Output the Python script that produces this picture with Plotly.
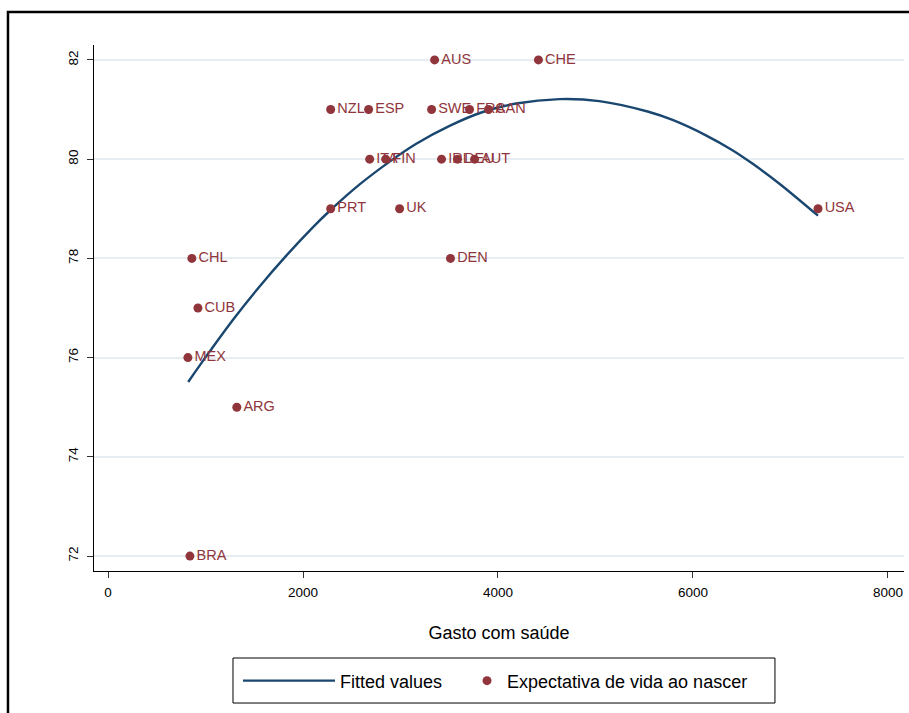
import plotly.graph_objects as go

# Scatter data
countries = ["AUS", "CHE", "NZL", "ESP", "SWE", "FRA", "CAN", "ITA", "FIN",
             "IRL", "DEU", "AUT", "PRT", "UK", "DEN", "USA", "CHL", "CUB",
             "MEX", "ARG", "BRA"]
gasto = [3350, 4415, 2284, 2673, 3319, 3708, 3903, 2684, 2848,
         3421, 3585, 3760, 2284, 2991, 3513, 7283, 860, 922,
         819, 1321, 840]
expectativa = [82, 82, 81, 81, 81, 81, 81, 80, 80,
               80, 80, 80, 79, 79, 78, 79, 78, 77,
               76, 75, 72]

# Fitted (quadratic) curve
fit_x = [822, 1045, 1284, 1557, 1831, 2103, 2291, 2581, 2889, 3162, 3503,
         3844, 4186, 4630, 5040, 5535, 5791, 6133, 6405, 6610, 6884, 7283]
fit_y = [75.51, 76.13, 76.77, 77.44, 78.06, 78.63, 78.99, 79.49, 79.95, 80.31,
         80.67, 80.95, 81.12, 81.21, 81.17, 80.96, 80.79, 80.48, 80.18, 79.91,
         79.51, 78.86]

x_ticks = [0, 2000, 4000, 6000, 8000]
y_ticks = [72, 74, 76, 78, 80, 82]

navy = "#1A476F"
maroon = "#90353B"
font_family = "Liberation Sans, Arial, sans-serif"

fig = go.Figure()
fig.add_trace(go.Scatter(
    x=fit_x, y=fit_y, mode="lines", name="Fitted values",
    line=dict(color=navy, width=2.4, shape="spline", smoothing=1.0),
    legend="legend",
))
fig.add_trace(go.Scatter(
    x=gasto, y=expectativa, mode="markers+text", name="Expectativa de vida ao nascer",
    text=countries, textposition="middle right",
    textfont=dict(color=maroon, size=14.5, family=font_family),
    marker=dict(color=maroon, size=9),
    legend="legend2",
))

leg_common = dict(
    orientation="h", yanchor="middle", xanchor="left", y=-0.209,
    bgcolor="rgba(0,0,0,0)", borderwidth=0,
    font=dict(size=18, family=font_family, color="#000000"),
)

fig.update_layout(
    width=909, height=713,
    margin=dict(l=94, r=5, t=45, b=142),
    paper_bgcolor="white", plot_bgcolor="white",
    font=dict(family=font_family, color="#000000"),
    showlegend=True,
    legend=dict(x=0.1778, itemwidth=92, **leg_common),
    legend2=dict(x=0.4605, itemwidth=30, **leg_common),
    shapes=[
        dict(type="rect", xref="paper", yref="paper",
             x0=-0.1062, x1=1.3, y0=-0.5, y1=1.0627,
             line=dict(color="#000000", width=2.5), layer="above"),
        dict(type="rect", xref="paper", yref="paper",
             x0=0.1716, x1=0.8407, y0=-0.2510, y1=-0.1654,
             line=dict(color="#000000", width=1), layer="above"),
    ],
)

fig.update_xaxes(
    range=[-144, 8165], tickvals=x_ticks, ticks="outside", ticklen=6,
    tickcolor="#333333", showline=True, linecolor="#000000", linewidth=1,
    showgrid=False, zeroline=False, tickfont=dict(size=13.5),
    ticklabelstandoff=3,
    title=dict(text="Gasto com saúde", font=dict(size=18), standoff=27),
)
fig.update_yaxes(
    range=[71.7, 82.3], tickvals=y_ticks, ticks="outside", ticklen=6,
    tickcolor="#333333", showline=True, linecolor="#000000", linewidth=1,
    showgrid=True, gridcolor="#E6EEF1", gridwidth=1.5, zeroline=False,
    tickfont=dict(size=13.5), tickangle=-90, ticklabelstandoff=4,
)

fig.write_html(
    "out.html",
    config={"displayModeBar": False},
    post_script="document.body.style.margin='0';document.body.style.overflow='hidden';",
)
